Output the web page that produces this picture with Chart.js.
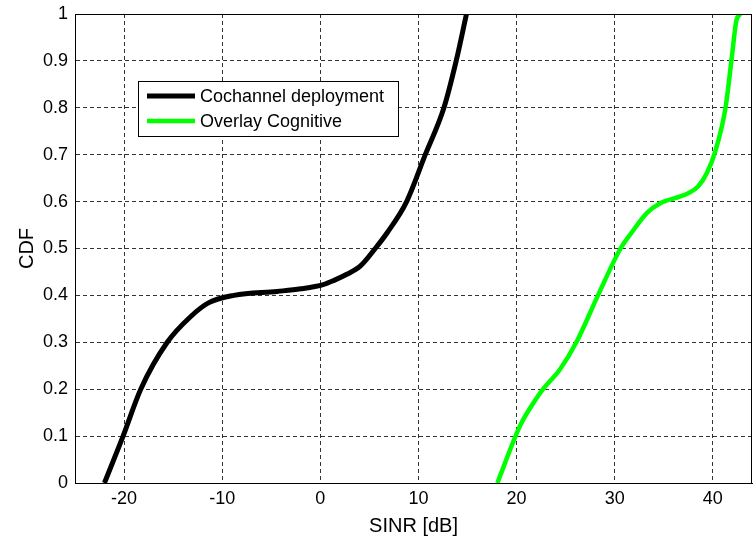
<!DOCTYPE html>
<html>
<head>
<meta charset="utf-8">
<script src="https://cdn.jsdelivr.net/npm/chart.js@4.4.0/dist/chart.umd.min.js"></script>
<style>
  html, body { margin: 0; padding: 0; background: #fff; }
  #wrap { width: 754px; height: 543px; }
</style>
</head>
<body>
<div id="wrap"><canvas id="cdfChart" width="754" height="543"></canvas></div>
<script>
// =================== DATA ===================
const seriesNames = ["Cochannel deployment", "Overlay Cognitive"];

const cochannelX = [-22.0, -20.1, -18.3, -15.6, -13.2, -11.4, -8.8, -4.4, -2.0, 0.3, 1.4, 2.7, 4.1, 5.6, 6.8, 8.8, 10.7, 12.6, 13.85, 14.9];
const cochannelY = [0, 0.1, 0.2, 0.3, 0.355, 0.384, 0.4, 0.4085, 0.414, 0.423, 0.432, 0.445, 0.463, 0.5, 0.533, 0.6, 0.7, 0.8, 0.9, 1.0];

const overlayX = [18.05, 19.9, 20.5, 21.7, 22.7, 24.4, 26.1, 28.3, 30.6, 31.7, 33.3, 34.6, 36.7, 37.5, 38.5, 39.4, 40.3, 41.3, 41.9, 42.4, 42.8];
const overlayY = [0, 0.1, 0.128, 0.17, 0.2, 0.2415, 0.3, 0.4, 0.5, 0.533, 0.576, 0.596, 0.611, 0.618, 0.632, 0.661, 0.71, 0.8, 0.9, 0.985, 1.0];

const xTicks = [-20, -10, 0, 10, 20, 30, 40];
const yTicks = [0, 0.1, 0.2, 0.3, 0.4, 0.5, 0.6, 0.7, 0.8, 0.9, 1];

const xTitle = "SINR [dB]";
const yTitle = "CDF";

// =================== HELPERS ===================
function toPoints(xs, ys) {
  return xs.map((x, i) => ({ x: x, y: ys[i] }));
}

const FONT = "'Liberation Sans', Arial, Helvetica, sans-serif";

// box around the plot + legend inside it
const boxPlugin = {
  id: "boxAndLegend",
  afterDraw(chart) {
    const { ctx, chartArea: a } = chart;
    ctx.save();
    ctx.strokeStyle = "#000";
    ctx.lineWidth = 1;
    ctx.strokeRect(Math.round(a.left) + 0.5, Math.round(a.top) + 0.5,
                   Math.round(a.right - a.left) - 1, Math.round(a.bottom - a.top));

    // legend
    const lx = 138, ly = 81, lw = 260, lh = 55;
    ctx.fillStyle = "#fff";
    ctx.fillRect(lx, ly, lw, lh);
    ctx.strokeRect(lx + 0.5, ly + 0.5, lw, lh);
    ctx.font = "18px " + FONT;
    ctx.textBaseline = "middle";
    chart.data.datasets.forEach((ds, i) => {
      const y = ly + 15 + i * 25;
      ctx.strokeStyle = ds.borderColor;
      ctx.lineWidth = ds.borderWidth;
      ctx.beginPath();
      ctx.moveTo(lx + 9, y);
      ctx.lineTo(lx + 57, y);
      ctx.stroke();
      ctx.fillStyle = "#000";
      ctx.fillText(ds.label, lx + 62, y + 1);
    });
    ctx.restore();
  }
};

// =================== CHART ===================
new Chart(document.getElementById("cdfChart"), {
  type: "line",
  data: {
    datasets: [
      {
        label: seriesNames[0],
        data: toPoints(cochannelX, cochannelY),
        borderColor: "#000000",
        borderWidth: 5,
        pointRadius: 0,
        cubicInterpolationMode: "monotone",
        fill: false
      },
      {
        label: seriesNames[1],
        data: toPoints(overlayX, overlayY),
        borderColor: "#00ff00",
        borderWidth: 4.5,
        pointRadius: 0,
        cubicInterpolationMode: "monotone",
        fill: false
      }
    ]
  },
  options: {
    responsive: false,
    animation: false,
    layout: { padding: { top: 14, right: 2, left: 0, bottom: 0 } },
    plugins: {
      legend: { display: false },
      tooltip: { enabled: false }
    },
    scales: {
      x: {
        type: "linear",
        min: -25,
        max: 44,
        afterBuildTicks: (axis) => { axis.ticks = xTicks.map(v => ({ value: v })); },
        afterFit: (scale) => { scale.height = 60; scale.paddingLeft = 0; scale.paddingRight = 0; },
        grid: { color: "#333", lineWidth: 1, drawTicks: false },
        border: { display: true, color: "#000", width: 1, dash: [4, 3] },
        ticks: {
          color: "#000",
          padding: 5,
          maxRotation: 0,
          font: { family: FONT, size: 18 },
          callback: (v) => String(v)
        },
        title: {
          display: true,
          text: xTitle,
          color: "#000",
          font: { family: FONT, size: 20 },
          padding: { top: 0, bottom: 5 }
        }
      },
      y: {
        type: "linear",
        min: 0,
        max: 1,
        afterBuildTicks: (axis) => { axis.ticks = yTicks.map(v => ({ value: v })); },
        afterFit: (scale) => { scale.width = 75; scale.paddingTop = 0; scale.paddingBottom = 0; },
        grid: { color: "#333", lineWidth: 1, drawTicks: false },
        border: { display: true, color: "#000", width: 1, dash: [4, 3] },
        ticks: {
          color: "#000",
          padding: 7,
          font: { family: FONT, size: 18 },
          callback: (v) => String(Math.round(v * 10) / 10)
        },
        title: {
          display: true,
          text: yTitle,
          color: "#000",
          font: { family: FONT, size: 20 },
          padding: { top: 15, bottom: 0 }
        }
      }
    }
  },
  plugins: [boxPlugin]
});
</script>
</body>
</html>
